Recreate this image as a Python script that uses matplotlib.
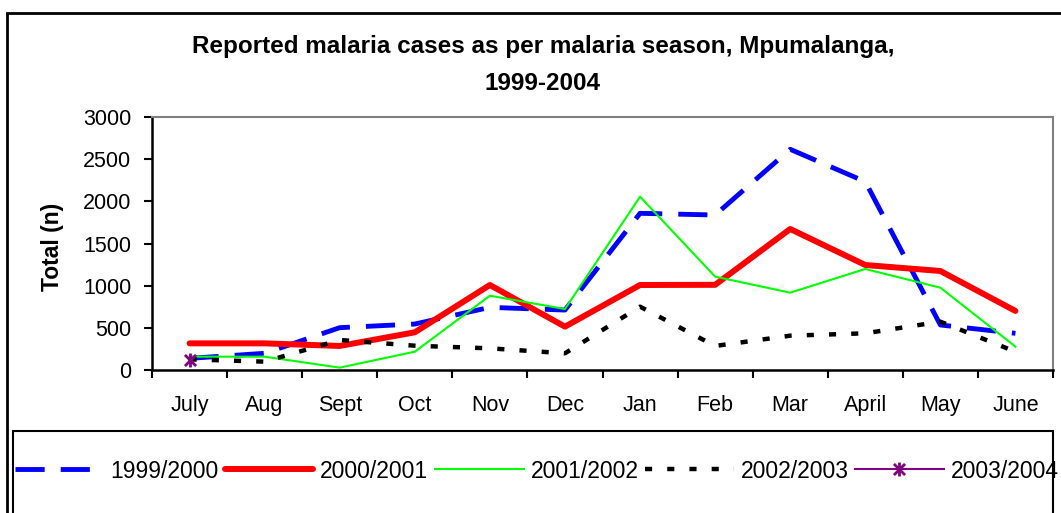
import numpy as np
import matplotlib.pyplot as plt
from matplotlib.patches import Rectangle
from matplotlib.path import Path

plt.rcParams['font.family'] = ['Liberation Sans', 'DejaVu Sans']

# data
months = ["July", "Aug", "Sept", "Oct", "Nov", "Dec", "Jan", "Feb", "Mar", "April", "May", "June"]
s1999 = [138, 198, 502, 545, 743, 711, 1858, 1838, 2617, 2233, 534, 435]
s2000 = [316, 316, 285, 447, 1008, 514, 1008, 1010, 1672, 1245, 1174, 700]
s2001 = [158, 158, 28, 217, 881, 723, 2055, 1107, 917, 1198, 976, 277]
s2002 = [126, 99, 356, 288, 257, 198, 751, 285, 407, 435, 573, 217]
s2003 = [118] + [np.nan] * 11
labels = ["1999/2000", "2000/2001", "2001/2002", "2002/2003", "2003/2004"]
yticks = [0, 500, 1000, 1500, 2000, 2500, 3000]

W, H = 1061, 513
fig = plt.figure(figsize=(W / 100, H / 100), dpi=100)
ax = fig.add_axes([152 / W, 1 - 370 / H, (1053 - 152) / W, (370 - 117) / H])

x = np.arange(len(months))

# Excel style star marker: vertical bar plus an X
star = Path([(0, -1), (0, 1), (-0.8, -0.8), (0.8, 0.8), (-0.8, 0.8), (0.8, -0.8)],
            [Path.MOVETO, Path.LINETO, Path.MOVETO, Path.LINETO, Path.MOVETO, Path.LINETO])

ax.plot(x, s1999, color="#0000FF", lw=3.5, dashes=(6, 3.3), label=labels[0])
ax.plot(x, s2000, color="#FF0000", lw=4.3, solid_capstyle="round", label=labels[1])
ax.plot(x, s2001, color="#00FF00", lw=1.5, label=labels[2])
ax.plot(x, s2002, color="black", lw=3.2, dashes=(1.6, 3.4), label=labels[3])
ax.plot(x, s2003, color="#800080", lw=1.5, marker=star, markersize=10,
        markeredgewidth=2, label=labels[4])

ax.set_xlim(-0.5, len(months) - 0.5)
ax.set_ylim(0, 3000)
ax.set_yticks(yticks)
ax.set_xticks(np.arange(-0.5, len(months)), labels=[])
ax.set_xticks(x, labels=months, minor=True)
ax.tick_params(axis="x", which="major", direction="out", length=6, width=1.5)
ax.tick_params(axis="x", which="minor", length=0, pad=18, labelsize=15.5)
ax.tick_params(axis="y", direction="out", length=6, width=1.5, pad=9, labelsize=15.5)

for side in ["top", "right"]:
    ax.spines[side].set_color("#808080")
    ax.spines[side].set_linewidth(1.5)
for side in ["left", "bottom"]:
    ax.spines[side].set_linewidth(1.8)

fig.text(543 / W, 1 - 47 / H, "Reported malaria cases as per malaria season, Mpumalanga,",
         ha="center", va="center", fontsize=17.5, fontweight="bold")
fig.text(543 / W, 1 - 84 / H, "1999-2004", ha="center", va="center",
         fontsize=17.5, fontweight="bold")
fig.text(52 / W, 1 - 247 / H, "Total (n)", rotation=90, ha="center", va="center",
         fontsize=16.5, fontweight="bold")

# outer chart frame and legend box
fig.patches.append(Rectangle((7 / W, -0.1), 1.2, 1 - 13 / H + 0.1, transform=fig.transFigure,
                             fill=False, edgecolor="black", lw=2))
fig.patches.append(Rectangle((13 / W, -0.1), (1053 - 13) / W, 1 - 431 / H + 0.1,
                             transform=fig.transFigure, fill=False, edgecolor="black", lw=1.5))

fig.legend(loc="center left", bbox_to_anchor=(15 / W, 1 - 471 / H), ncol=5,
           frameon=False, fontsize=16.5, handlelength=3.85, handletextpad=0.3,
           columnspacing=0.3, borderpad=0, borderaxespad=0)

fig.savefig("out.png", dpi=100)
